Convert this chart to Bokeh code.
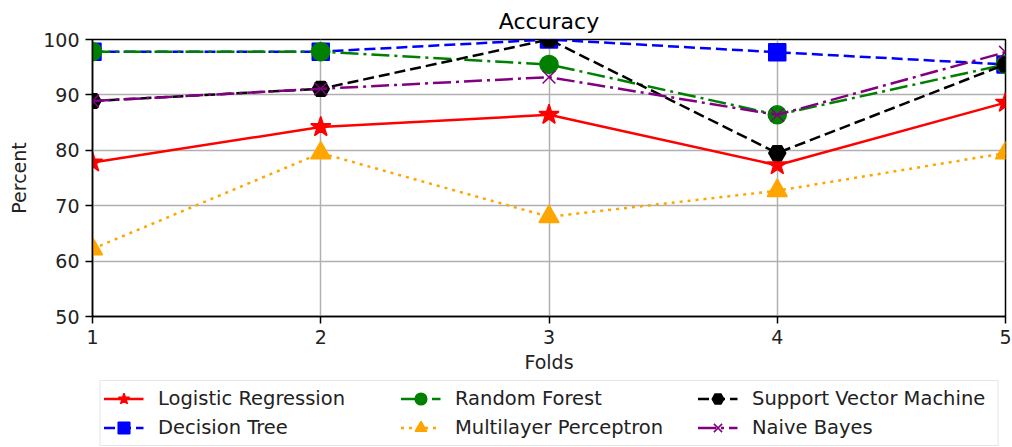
from bokeh.plotting import figure
from bokeh.models import Legend, LegendItem, Range1d, FixedTicker
from bokeh.layouts import column
from bokeh.embed import file_html
from bokeh.resources import INLINE

folds = [1, 2, 3, 4, 5]
logistic = [77.8, 84.2, 86.4, 77.3, 88.6]
decision_tree = [97.8, 97.8, 100.0, 97.7, 95.5]
random_forest = [97.8, 97.8, 95.5, 86.4, 95.5]
mlp = [62.2, 79.5, 68.0, 72.7, 79.5]
svm = [88.9, 91.1, 100.0, 79.5, 95.5]
naive_bayes = [88.9, 91.1, 93.2, 86.4, 97.7]
y_ticks = [50, 60, 70, 80, 90, 100]

FONT = "DejaVu Sans"

p = figure(frame_width=913, frame_height=277, min_border_left=92, min_border_right=7,
           min_border_top=39, min_border_bottom=62, output_backend="svg",
           toolbar_location=None, x_range=Range1d(1, 5), y_range=Range1d(50, 100))

p.title.text = "Accuracy"
p.title.align = "center"
p.title.text_font = FONT
p.title.text_font_size = "22px"
p.title.text_font_style = "normal"
p.title.text_color = "black"
p.title.standoff = 11

p.outline_line_color = "black"
p.outline_line_width = 1.5
p.outline_line_alpha = 1

for ax in (p.xaxis[0], p.yaxis[0]):
    ax.major_label_text_font = FONT
    ax.major_label_text_font_size = "19px"
    ax.major_label_text_color = "#222222"
    ax.axis_label_text_font = FONT
    ax.axis_label_text_font_size = "19px"
    ax.axis_label_text_font_style = "normal"
    ax.axis_label_text_color = "#222222"
    ax.minor_tick_line_color = None
    ax.major_tick_out = 7
    ax.major_tick_in = 0
    ax.major_label_standoff = 6
    ax.axis_line_color = "black"
    ax.axis_line_width = 1.5
    ax.major_tick_line_color = "black"
    ax.major_tick_line_width = 1.5

p.xaxis.ticker = FixedTicker(ticks=folds)
p.yaxis.ticker = FixedTicker(ticks=y_ticks)
p.xaxis.axis_label = "Folds"
p.yaxis.axis_label = "Percent"
p.xaxis.axis_label_standoff = 4
p.yaxis.axis_label_standoff = 10

p.grid.grid_line_color = "#b0b0b0"
p.grid.grid_line_width = 1.5

series = [
    ("Logistic Regression", logistic, "red", "solid", "star", 21),
    ("Decision Tree", decision_tree, "blue", "11 5", "square", 17),
    ("Random Forest", random_forest, "green", "18 5 3 5", "circle", 18),
    ("Multilayer Perceptron", mlp, "orange", "3 5", "triangle", 20),
    ("Support Vector Machine", svm, "black", "11 5", "hex", 17),
    ("Naive Bayes", naive_bayes, "purple", "18 5 3 5", "x", 18),
]

# legend strip: a second figure below the chart holding only the legend;
# its copies of the series lie outside its (0..1) y range, so only the legend shows
lg = figure(frame_width=913, frame_height=69, min_border_left=92, min_border_right=7,
            min_border_top=0, min_border_bottom=0, output_backend="svg",
            toolbar_location=None, x_axis_type=None, y_axis_type=None,
            x_range=Range1d(0, 1), y_range=Range1d(0, 1))
lg.outline_line_color = None
lg.grid.visible = False

items = {}
for name, ys, color, dash, marker, size in series:
    p.line(folds, ys, line_color=color, line_width=2.5, line_dash=dash)
    p.scatter(folds, ys, marker=marker, size=size, fill_color=color,
              line_color=color, line_width=1.5)
    l = lg.line(folds, ys, line_color=color, line_width=2.5, line_dash=dash)
    s = lg.scatter(folds, ys, marker=marker, size=size, fill_color=color,
                   line_color=color, line_width=1.5)
    items[name] = LegendItem(label=name, renderers=[l, s])

# row-wise order so the grid reads column-wise like the reference
order = ["Logistic Regression", "Random Forest", "Support Vector Machine",
         "Decision Tree", "Multilayer Perceptron", "Naive Bayes"]
legend = Legend(items=[items[n] for n in order], location="center",
                orientation="horizontal", ncols=3)
legend.label_text_font = FONT
legend.label_text_font_size = "19.5px"
legend.label_text_color = "#222222"
legend.glyph_width = 40
legend.glyph_height = 29
legend.label_height = 21
legend.label_width = 242
legend.label_standoff = 15
legend.spacing = 0
legend.padding = 3
legend.margin = 0
legend.border_line_color = "#cccccc"
legend.border_line_width = 1.5
legend.background_fill_alpha = 1
lg.add_layout(legend, "center")

layout = column(p, lg, spacing=0)
open("out.html", "w").write(file_html(layout, INLINE))
